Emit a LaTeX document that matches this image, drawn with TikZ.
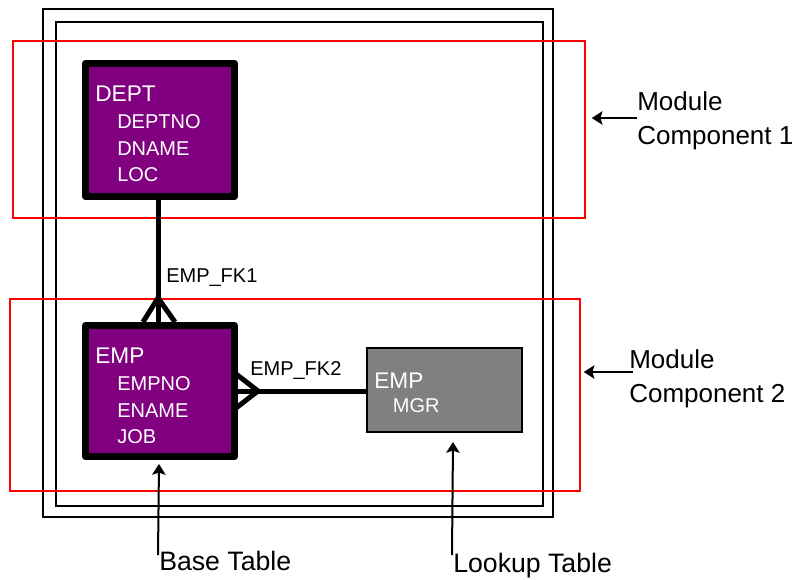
\documentclass[tikz,border=0pt]{standalone}
\usepackage{fontspec}
\setmainfont{Liberation Sans}
\usetikzlibrary{arrows.meta,calc}
\definecolor{tblpurple}{RGB}{128,0,128}
\definecolor{tblgray}{RGB}{128,128,128}
\definecolor{modred}{RGB}{255,0,0}
\newcommand\tname[1]{{\fontsize{17}{20}\selectfont #1}}
\newcommand\col{\hspace*{16.5pt}}

\begin{document}
\begin{tikzpicture}[x=0.75pt,y=-0.75pt,
    px/.style 2 args={minimum width=#1*0.75pt,minimum height=#2*0.75pt},
    tbl/.style={draw,line width=5.25pt,line join=round,fill=tblpurple,inner sep=0pt},
    lookup/.style={draw,line width=1.5pt,fill=tblgray,inner sep=0pt},
    cols/.style={text=white,align=left,inner sep=0pt,anchor=north west,font=\fontsize{15}{20}\selectfont},
    frame/.style={line width=1.5pt},
    modbox/.style={draw=modred,line width=1.1pt,inner sep=0pt},
    rel/.style={line width=3.75pt,line join=round},
    fk/.style={inner sep=0pt,anchor=base west,font=\fontsize{15}{18}\selectfont},
    note/.style={align=left,inner sep=0pt,anchor=north west,font=\fontsize{19.5}{25.5}\selectfont},
    arr/.style={line width=1.5pt,-{Stealth[length=8pt,width=10pt,inset=1.5pt]}}]
  \useasboundingbox (0,0) rectangle (796,579);
  % outer frames
  \draw[frame] (43,9) rectangle (553,517);
  \draw[frame] (56,22) rectangle (543,506);
  % module components
  \node[modbox,px={572}{177}] (mod1) at (299,129.5) {};
  \node[modbox,px={570}{192}] (mod2) at (295,395) {};
  % tables
  \node[tbl,px={149}{133}] (dept) at (160,130) {};
  \node[cols] (dept-cols) at (95,86) {\tname{DEPT}\\\col DEPTNO\\\col DNAME\\\col LOC};
  \node[tbl,px={149}{131}] (emp) at (160,391) {};
  \node[cols] (emp-cols) at (95,348) {\tname{EMP}\\\col EMPNO\\\col ENAME\\\col JOB};
  \node[lookup,px={155}{84}] (mgr) at (444.5,390) {};
  \node[cols,font=\fontsize{15}{18}\selectfont] (mgr-cols) at (374,373) {\tname{EMP}\\\hspace*{14pt}MGR};
  % relations
  \draw[rel] ([xshift=-1.5pt]dept.south) -- ([xshift=-1.5pt]emp.north);
  \draw[rel] ($(emp.north)+(-17,0)$) -- ($(emp.north)+(-2,-24)$) -- ($(emp.north)+(15,0)$);
  \node[fk] (fk1) at (166,282) {EMP\_FK1};
  \draw[rel] (emp.east) -- (emp.east -| mgr.west);
  \draw[rel] ($(emp.east)+(-2,-17)$) -- ($(emp.east)+(20,0)$) -- ($(emp.east)+(-2,17)$);
  \node[fk] (fk2) at (250,375) {EMP\_FK2};
  % notes
  \node[note] (comp1) at (637,91) {Module\\Component 1};
  \node[note] (comp2) at (629,349) {Module\\Component 2};
  \node[note,font=\fontsize{20}{24}\selectfont] (base) at (159,551) {Base Table};
  \node[note,font=\fontsize{20}{24}\selectfont] (lkp) at (453,553) {Lookup Table};
  \draw[arr] ($(comp1.north west)+(0,27)$) -- ([xshift=4.5pt]mod1.east |- {$(comp1.north west)+(0,27)$});
  \draw[arr] ($(comp2.north west)+(4,23)$) -- ([xshift=2.25pt]mod2.east |- {$(comp2.north west)+(0,23)$});
  \draw[arr] ([shift={(-0.75pt,-3pt)}]base.north west) -- ([yshift=-3pt]base.north west |- emp.south);
  \draw[arr] ([shift={(-0.75pt,-1.5pt)}]lkp.north west) -- ([yshift=-6.75pt]lkp.north west |- mgr.south);
\end{tikzpicture}
\end{document}
